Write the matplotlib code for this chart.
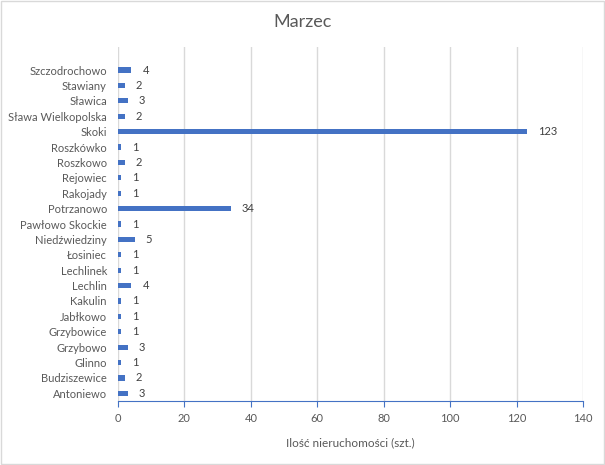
import matplotlib
matplotlib.use("Agg")
from matplotlib import pyplot as plt
from matplotlib.patches import Rectangle

miejscowosci = ['Szczodrochowo', 'Stawiany', 'Sławica', 'Sława Wielkopolska', 'Skoki',
                'Roszkówko', 'Roszkowo', 'Rejowiec', 'Rakojady', 'Potrzanowo',
                'Pawłowo Skockie', 'Niedźwiedziny', 'Łosiniec', 'Lechlinek', 'Lechlin',
                'Kakulin', 'Jabłkowo', 'Grzybowice', 'Grzybowo', 'Glinno',
                'Budziszewice', 'Antoniewo']
ilosc = [4, 2, 3, 2, 123, 1, 2, 1, 1, 34, 1, 5, 1, 1, 4, 1, 1, 1, 3, 1, 2, 3]
xticki = [0, 20, 40, 60, 80, 100, 120, 140]

NIEBIESKI = '#4472C4'
SZARY = '#595959'

plt.rcParams['font.family'] = ['Lato', 'DejaVu Sans']

fig = plt.figure(figsize=(6.05, 4.65), dpi=100)
fig.patches.append(Rectangle((0.002, 0.002), 0.996, 0.996, transform=fig.transFigure,
                             fill=False, edgecolor='#D9D9D9', lw=1))
ax = fig.add_axes([118 / 605, 1 - 401 / 465, 465 / 605, 354 / 465])

# od dolu do gory
etykiety = miejscowosci[::-1]
wartosci = ilosc[::-1]
pozycje = list(range(len(etykiety)))

ax.barh(pozycje, wartosci, height=0.34, color=NIEBIESKI, zorder=3)
for p, w in zip(pozycje, wartosci):
    ax.annotate(str(w), (w, p), xytext=(8, 0), textcoords='offset points',
                va='center', ha='left', fontsize=8, color='#404040')

ax.set_xlim(0, 140)
ax.set_ylim(-0.5, len(etykiety) + 0.5)
ax.set_xticks(xticki)
ax.set_yticks(pozycje)
ax.set_yticklabels(etykiety)
ax.grid(axis='x', color='#D9D9D9', lw=1, zorder=0)

for s in ['top', 'right', 'left']:
    ax.spines[s].set_visible(False)
ax.spines['bottom'].set_color(NIEBIESKI)
ax.tick_params(axis='x', colors=NIEBIESKI, length=4, labelcolor=SZARY, labelsize=8, pad=5)
ax.tick_params(axis='y', length=0, labelcolor=SZARY, labelsize=8, pad=8)

ax.set_xlabel('Ilość nieruchomości (szt.)', fontsize=8.5, color=SZARY, labelpad=9)
fig.text(0.5, 1 - 22 / 465, 'Marzec', ha='center', va='center', fontsize=13, color=SZARY)

fig.savefig('out.png', dpi=100)
